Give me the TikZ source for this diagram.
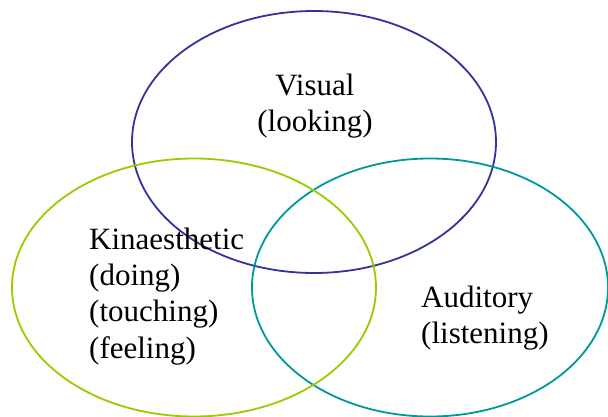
\documentclass[tikz,border=0pt]{standalone}
\usepackage{fontspec}
\setmainfont{Liberation Serif}
\definecolor{vnavy}{HTML}{333399}
\definecolor{vgreen}{HTML}{99CC00}
\definecolor{vteal}{HTML}{009999}
\begin{document}
\begin{tikzpicture}[x=1pt,y=-1pt,
  ring/.style={line width=1.8pt},
  lbl/.style={inner sep=0pt,font=\fontsize{31}{36.3}\selectfont}]
\useasboundingbox (0,0) rectangle (608,417);
\draw[ring,vnavy] (314,142) ellipse [x radius=182pt, y radius=131pt];
\draw[ring,vteal] (430,287.5) ellipse [x radius=178pt, y radius=129pt];
\draw[ring,vgreen] (194,287.5) ellipse [x radius=182pt, y radius=129pt];
\node[lbl,align=center,anchor=base] (vis) at (315,131.5) {Visual\\(looking)};
\node[lbl,align=left,anchor=base west] (kin) at (89,358) {Kinaesthetic\\(doing)\\(touching)\\(feeling)};
\node[lbl,align=left,anchor=base west] (aud) at (421,343.5) {Auditory\\(listening)};
\end{tikzpicture}
\end{document}
